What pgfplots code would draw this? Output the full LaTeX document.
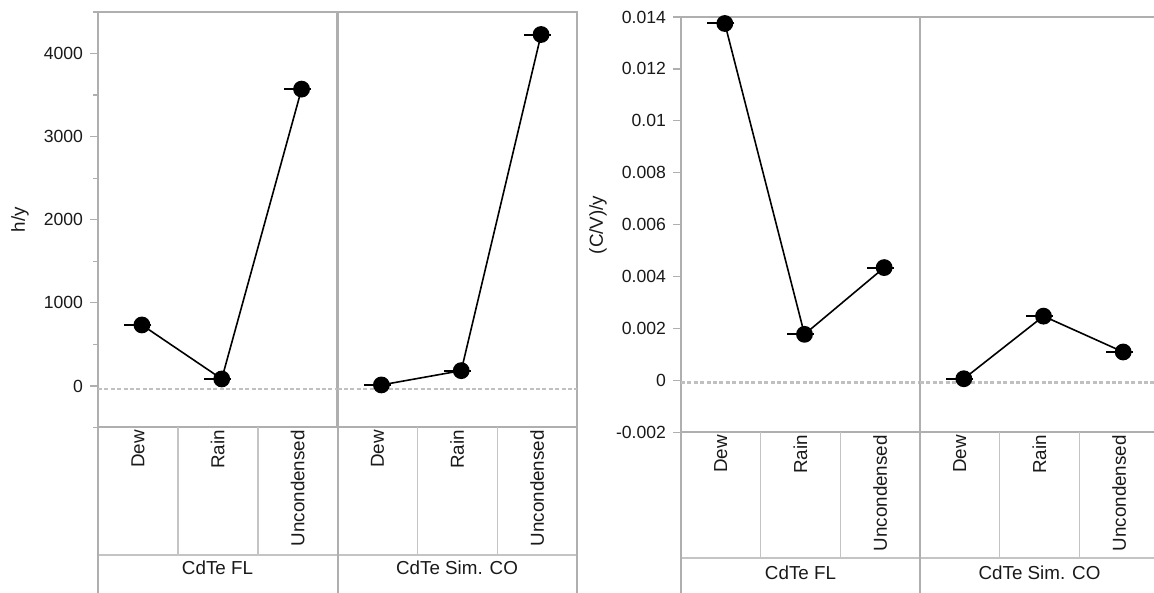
\documentclass[border=0pt]{standalone}
\usepackage{fontspec}
\setmainfont{Liberation Sans}
\usepackage{pgfplots}
\pgfplotsset{compat=1.18}
\definecolor{framegray}{RGB}{175,175,175}
\definecolor{gridgray}{RGB}{196,196,196}
\definecolor{zerogray}{RGB}{192,192,192}
\newcommand{\fs}{\fontsize{8.8}{10}\selectfont}
\newcommand{\fc}{\fontsize{9.4}{11}\selectfont}
\pgfplotsset{
  panel/.style={
    anchor=south west, scale only axis, width=119.75pt, height=207.75pt,
    xmin=0, xmax=3, clip=false,
    axis line style={draw=framegray, line width=1pt},
    xtick={0.5,1.5,2.5}, xticklabels={Dew,Rain,Uncondensed},
    xtick style={draw=none},
    x tick label style={rotate=90, anchor=east, inner sep=1pt, font=\fc, xshift=0.8pt},
    xticklabel shift=-3pt,
    ytick pos=left, xtick pos=bottom,
    tick align=outside, major tick length=4pt, minor tick length=2.5pt,
    ytick style={draw=framegray, line width=0.6pt},
    minor tick style={draw=framegray, line width=0.6pt},
    y tick label style={font=\fs},
    tick label style={text=black!90},
    scaled y ticks=false,
  },
  dataline/.style={black, line width=0.8pt, mark=*, mark size=3.8pt},
  meanmark/.style={only marks, mark=-, mark size=6.75pt, mark options={line width=1pt, black}},
  zeroline/.style={zerogray, line width=1.2pt, dash pattern=on 2pt off 1.2pt, forget plot},
}
\begin{document}
\begin{tikzpicture}
% ---------- left chart ----------
\begin{axis}[panel, at={(49pt,82.75pt)}, ymin=-500, ymax=4500,
  ytick={0,1000,2000,3000,4000}, yticklabels={0,1000,2000,3000,4000},
  minor ytick={-500,500,1500,2500,3500,4500}]
  \addplot[zeroline] coordinates {(0,-35) (3,-35)};
  \addplot[dataline] coordinates {(0.55,734) (1.55,84) (2.55,3572)};
  \addplot[meanmark] coordinates {(0.5,734) (1.5,84) (2.5,3572)};
\end{axis}
\begin{axis}[panel, at={(168.75pt,82.75pt)}, ymin=-500, ymax=4500, ytick=\empty]
  \addplot[zeroline] coordinates {(0,-35) (3,-35)};
  \addplot[dataline] coordinates {(0.55,12) (1.55,184) (2.55,4229)};
  \addplot[meanmark] coordinates {(0.5,12) (1.5,184) (2.5,4229)};
\end{axis}
% ---------- right chart ----------
\begin{axis}[panel, at={(340.5pt,80.25pt)}, width=119.5pt, ymin=-0.002, ymax=0.014,
  ytick={-0.002,0,0.002,0.004,0.006,0.008,0.01,0.012,0.014},
  yticklabels={-0.002,0,0.002,0.004,0.006,0.008,0.01,0.012,0.014}]
  \addplot[zeroline] coordinates {(0,-0.00007) (3,-0.00007)};
  \addplot[dataline] coordinates {(0.55,0.01375) (1.55,0.00178) (2.55,0.00435)};
  \addplot[meanmark] coordinates {(0.5,0.01375) (1.5,0.00178) (2.5,0.00435)};
\end{axis}
\begin{axis}[panel, at={(460pt,80.25pt)}, width=119.5pt, ymin=-0.002, ymax=0.014, ytick=\empty]
  \addplot[zeroline] coordinates {(0,-0.00007) (3,-0.00007)};
  \addplot[dataline] coordinates {(0.55,0.00007) (1.55,0.00248) (2.55,0.0011)};
  \addplot[meanmark] coordinates {(0.5,0.00007) (1.5,0.00248) (2.5,0.0011)};
\end{axis}
% ---------- category tables ----------
\begin{scope}[line width=0.6pt]
  % left
  \draw[gridgray] (49pt,19pt) -- (288.5pt,19pt);
  \foreach \x in {89,129,208.75,248.75} \draw[gridgray] (\x pt,82.75pt) -- (\x pt,19pt);
  \foreach \x in {49,168.75,288.5} \draw[framegray, line width=1pt] (\x pt,82.75pt) -- (\x pt,-5pt);
  % right
  \draw[gridgray] (340.5pt,17.5pt) -- (579.5pt,17.5pt);
  \foreach \x in {380.33,420.17,499.83,539.67} \draw[gridgray] (\x pt,80.25pt) -- (\x pt,17.5pt);
  \foreach \x in {340.5,460,579.5} \draw[framegray, line width=1pt] (\x pt,80.25pt) -- (\x pt,-5pt);
\end{scope}
\node[font=\fc, text=black!90] at (108.75pt,12.5pt) {CdTe FL};
\node[font=\fc, text=black!90] at (228.5pt,12.5pt) {CdTe Sim. CO};
\node[font=\fc, text=black!90] at (400.25pt,10pt) {CdTe FL};
\node[font=\fc, text=black!90] at (519.75pt,10pt) {CdTe Sim. CO};
% y labels
\node[font=\fc, text=black!90, rotate=90] at (10pt,186.6pt) {h/y};
\node[font=\fc, text=black!90, rotate=90] at (299pt,184pt) {(C/V)/y};
\pgfresetboundingbox
\path (0,0) rectangle (577pt,296.5pt);
\end{tikzpicture}
\end{document}
